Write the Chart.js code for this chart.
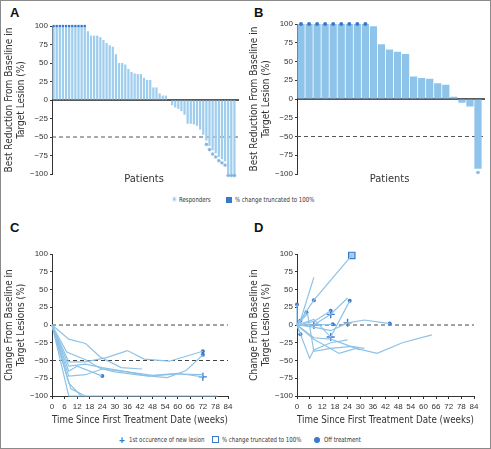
<!DOCTYPE html>
<html>
<head>
<meta charset="utf-8">
<script src="https://cdn.jsdelivr.net/npm/chart.js@4.4.0/dist/chart.umd.min.js"></script>
<style>
  body { margin: 0; background: #fff; font-family: "DejaVu Sans Condensed", "Liberation Sans", sans-serif; }
  #frame { position: absolute; left: 0; top: 0; width: 491px; height: 449px; box-sizing: border-box; border: 1.5px solid #8a8a8a; pointer-events: none; }
  .box { position: absolute; }
  .tag { position: absolute; font: bold 13px "Liberation Sans", Arial, sans-serif; color: #111; line-height: 1; }
  .leg { position: absolute; font-size: 7px; color: #333; white-space: nowrap; line-height: 1; transform: scaleX(0.86); transform-origin: left top; }
  .sym { position: absolute; line-height: 1; }
</style>
</head>
<body>
<div class="tag" style="left:10px;top:6px">A</div>
<div class="tag" style="left:254px;top:6px">B</div>
<div class="tag" style="left:10px;top:221px">C</div>
<div class="tag" style="left:254px;top:221px">D</div>

<div class="box" style="left:0;top:0;width:245px;height:195px"><canvas id="chartA"></canvas></div>
<div class="box" style="left:245px;top:0;width:246px;height:195px"><canvas id="chartB"></canvas></div>
<div class="box" style="left:0;top:225px;width:245px;height:205px"><canvas id="chartC"></canvas></div>
<div class="box" style="left:245px;top:225px;width:246px;height:205px"><canvas id="chartD"></canvas></div>

<!-- legend, top row -->
<div class="sym" style="left:171px;top:196px;font-size:8px;color:#7fb0e0">✳</div>
<div class="leg" style="left:179px;top:197px">Responders</div>
<div class="sym" style="left:226px;top:197px;width:6px;height:6px;background:#3a78c9"></div>
<div class="leg" style="left:235px;top:197px">% change truncated to 100%</div>

<!-- legend, bottom row -->
<div class="sym" style="left:119px;top:435px;font:bold 10px 'Liberation Sans',sans-serif;color:#3a78c9">+</div>
<div class="leg" style="left:129px;top:437px">1st occurence of new lesion</div>
<div class="sym" style="left:212px;top:436px;width:5px;height:5px;border:1px solid #3a78c9"></div>
<div class="leg" style="left:222px;top:437px">% change truncated to 100%</div>
<div class="sym" style="left:314px;top:437px;width:6px;height:6px;border-radius:50%;background:#3a78c9"></div>
<div class="leg" style="left:324px;top:437px">Off treatment</div>

<div id="frame"></div>

<script>
// Panel A - best reduction, one bar per patient
const aChange = [100, 100, 100, 100, 100, 100, 100, 100, 100, 100, 100, 93, 87, 87, 87, 85, 81, 77, 74, 72, 62,
  50, 50, 48, 42, 38, 36, 35, 35, 30, 27, 27, 17, 17, 9, 6, 6, 0, -7, -10, -12, -15, -20,
  -32, -32, -33, -35, -40, -47, -55, -62, -68, -72, -77, -80, -83, -100, -100, -100];
const aTruncated = [0, 1, 2, 3, 4, 5, 6, 7, 8, 9, 10];
const aResponders = [49, 50, 51, 52, 53, 54, 55, 56, 57, 58];

// Panel B
const bChange = [100, 100, 100, 100, 100, 100, 100, 100, 100, 97, 73, 66, 63, 60, 30, 28, 27, 21, 19, 3, -5, -10, -93];
const bTruncated = [0, 1, 2, 3, 4, 5, 6, 7, 8];
const bResponders = [22];

// Panel C - change over time, [week, % change]
const cLines = [
  [[0, 0], [8, -20], [16, -26], [23, -45], [33, -60], [43, -62]],
  [[0, 0], [7, -38], [16, -49], [23, -61], [30, -66], [43, -71], [55, -74], [64, -64], [72, -42]],
  [[0, 0], [8, -52], [16, -52], [26, -46], [36, -36], [44, -48], [56, -51], [72, -37]],
  [[0, 0], [8, -65], [12, -58], [24, -72]],
  [[0, 0], [8, -72], [16, -70], [24, -62], [36, -66], [48, -71], [60, -68], [72, -73]],
  [[0, 0], [8, -58], [16, -55], [24, -60], [36, -66], [46, -72], [60, -69], [72, -70]],
  [[0, 0], [8, -100], [79, -100]],
  [[0, 0], [8, -82], [14, -100]],
  [[0, 0], [9, -90], [16, -100]]
];
const cNewLesion = [[72, -73]];
const cOffTreatment = [[72, -42], [72, -37], [24, -72]];
const cTruncated = [];

// Panel D
const dLines = [
  [[0, 0], [8, 35], [26, 98]],
  [[0, 0], [1.6, 6], [8, 67]],
  [[0, 0], [4.5, 18]],
  [[0, 0], [0, 29]],
  [[0, 0], [1.6, -13]],
  [[0, 0], [8, 0], [16, 15], [24, 38]],
  [[0, 0], [8, 5], [16, 20]],
  [[0, 0], [8, 8], [16, -17], [25, 34]],
  [[0, 0], [8, 0], [17, 1]],
  [[0, 0], [8, -3], [16, -8], [24, 3], [32, 7], [44, 2]],
  [[0, 0], [6, -47], [8, -35], [16, -25], [24, -21]],
  [[0, 0], [8, -20], [20, -40], [28, -33], [38, -40], [50, -25], [64, -14]],
  [[0, 0], [5, 16], [8, -37], [16, -33], [26, -30], [32, -33]],
  [[0, 0], [8, -18], [16, -20], [30, -35]]
];
const dNewLesion = [[8, 0], [16, 15], [16, -17], [24, 3]];
const dOffTreatment = [[0, 29], [1.6, 6], [4.5, 18], [8, 35], [1.6, -13], [16, 20], [17, 1], [25, 34], [44, 2], [26, 98]];
const dTruncated = [[26, 98]];

const yTicks = [-100, -75, -50, -25, 0, 25, 50, 75, 100];
const weekTicks = [0, 6, 12, 18, 24, 30, 36, 42, 48, 54, 60, 66, 72, 78, 84];

const DARK = '#3a78c9';
const LINE = '#8dc2e8';
const TICKFONT = { family: '"Liberation Sans", Arial, sans-serif', size: 8 };
const TITLEFONT = { family: '"DejaVu Sans Condensed", sans-serif', size: 10, lineHeight: 1.15 };

Chart.defaults.color = '#333';

// horizontal reference lines (0 and -50)
const refLines = {
  id: 'refLines',
  beforeDatasetsDraw(chart, args, opts) {
    const { ctx, chartArea } = chart;
    const y = chart.scales.y;
    (opts.lines || []).forEach(l => {
      const py = y.getPixelForValue(l.value);
      ctx.save();
      ctx.strokeStyle = l.color;
      ctx.lineWidth = l.width || 1;
      ctx.setLineDash(l.dash || []);
      ctx.beginPath();
      ctx.moveTo(chartArea.left, py);
      ctx.lineTo(chartArea.right + (l.extra || 0), py);
      ctx.stroke();
      ctx.restore();
    });
  }
};

function yScale(title) {
  return {
    min: -100, max: 100,
    afterBuildTicks: s => { s.ticks = yTicks.map(v => ({ value: v })); },
    afterFit: s => { s.width = 52; },
    grid: { drawOnChartArea: false, drawTicks: true, tickLength: 2, color: '#333' },
    border: { display: true, color: '#333', width: 1 },
    ticks: {
      padding: 2,
      font: TICKFONT,
      callback: v => String(v).replace('-', '\u2212')
    },
    title: { display: true, text: title, font: TITLEFONT, padding: { top: 4, bottom: 0 }, color: '#333' }
  };
}

function barChart(id, values, truncated, responders, color, barPct, topPad, dotStyle) {
  const labels = values.map((v, i) => i + 1);
  new Chart(document.getElementById(id), {
    type: 'bar',
    data: {
      labels: labels,
      datasets: [
        {
          data: values,
          backgroundColor: color,
          barPercentage: barPct,
          categoryPercentage: 1,
          order: 2
        },
        {
          type: 'line',
          data: values.map((v, i) => truncated.includes(i) ? v : null),
          showLine: false,
          pointStyle: dotStyle,
          pointRadius: dotStyle === 'rect' ? 1.6 : 2,
          pointBackgroundColor: DARK,
          pointBorderWidth: 0,
          clip: false,
          order: 1
        },
        {
          type: 'line',
          data: values.map((v, i) => responders.includes(i) ? Math.max(v - 5, -102) : null),
          showLine: false,
          pointStyle: 'star',
          pointRadius: 1.8,
          pointBorderColor: '#7fb0e0',
          pointBorderWidth: 1,
          clip: false,
          order: 1
        }
      ]
    },
    options: {
      responsive: true,
      maintainAspectRatio: false,
      animation: false,
      layout: { padding: { top: topPad, right: 9, bottom: 10, left: 0 } },
      plugins: {
        legend: { display: false },
        tooltip: { enabled: false },
        refLines: {
          lines: [
            { value: -50, color: '#555', dash: [4, 3], width: 1, extra: 3 },
            { value: 0, color: '#222', width: 1.3, extra: 3 }
          ]
        }
      },
      scales: {
        x: {
          afterFit: s => { s.height = 11; },
          grid: { display: false },
          border: { display: false },
          ticks: { display: false },
          title: { display: true, text: 'Patients', font: { family: TITLEFONT.family, size: 11, lineHeight: 1.0 }, padding: 0, color: '#333' }
        },
        y: yScale(['Best Reduction From Baseline in', 'Target Lesion (%)'])
      }
    },
    plugins: [refLines]
  });
}

function timeChart(id, lines, newLesion, offTreatment, truncated, dashes) {
  const toXY = p => ({ x: p[0], y: p[1] });
  const datasets = lines.map(l => ({
    data: l.map(toXY),
    borderColor: LINE,
    borderWidth: 1.2,
    pointRadius: 0,
    fill: false,
    clip: false
  }));
  datasets.push({
    data: truncated.map(toXY), showLine: false, pointStyle: 'rect', pointRadius: 4.5,
    pointBackgroundColor: '#a9d0ef', pointBorderColor: DARK, pointBorderWidth: 1.2, clip: false
  });
  datasets.push({
    data: offTreatment.map(toXY), showLine: false, pointStyle: 'circle', pointRadius: 2,
    pointBackgroundColor: DARK, pointBorderWidth: 0, clip: false
  });
  datasets.push({
    data: newLesion.map(toXY), showLine: false, pointStyle: 'cross', pointRadius: 4,
    pointBorderColor: DARK, pointBorderWidth: 1.4, clip: false
  });
  new Chart(document.getElementById(id), {
    type: 'line',
    data: { datasets: datasets },
    options: {
      responsive: true,
      maintainAspectRatio: false,
      animation: false,
      layout: { padding: { top: 29, right: 17, bottom: 4, left: 0 } },
      plugins: {
        legend: { display: false },
        tooltip: { enabled: false },
        refLines: { lines: dashes.map(v => ({ value: v, color: '#444', dash: [4, 3], width: 1 })) }
      },
      scales: {
        x: {
          type: 'linear', min: 0, max: 84,
          afterBuildTicks: s => { s.ticks = weekTicks.map(v => ({ value: v })); },
          afterFit: s => { s.height = 30; },
          grid: { drawOnChartArea: false, drawTicks: true, tickLength: 3, color: '#333' },
          border: { display: true, color: '#333', width: 1 },
          ticks: { autoSkip: false, maxRotation: 0, padding: 3, font: TICKFONT },
          title: { display: true, text: 'Time Since First Treatment Date (weeks)', font: { family: TITLEFONT.family, size: 10.5, lineHeight: 1.0 }, padding: 0, color: '#333' }
        },
        y: yScale(['Change From Baseline in', 'Target Lesions (%)'])
      }
    },
    plugins: [refLines]
  });
}

barChart('chartA', aChange, aTruncated, aResponders, '#9fcdee', 0.72, 26, 'rect');
barChart('chartB', bChange, bTruncated, bResponders, '#8ec4ea', 0.9, 24, 'circle');
timeChart('chartC', cLines, cNewLesion, cOffTreatment, cTruncated, [0, -50]);
timeChart('chartD', dLines, dNewLesion, dOffTreatment, dTruncated, [0]);
</script>
</body>
</html>
